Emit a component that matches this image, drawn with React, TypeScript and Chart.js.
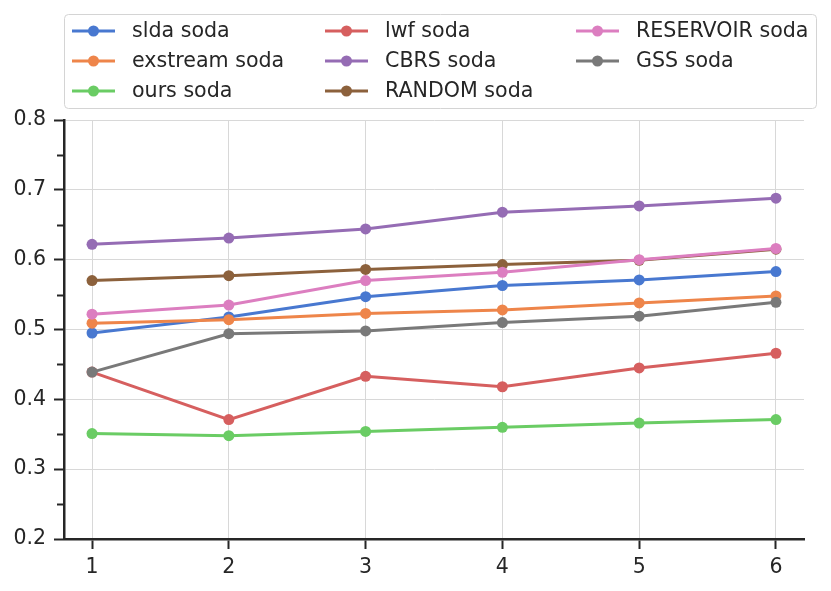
import React, { useEffect, useRef } from "react";
import { Chart, registerables } from "chart.js";

Chart.register(...registerables);

const xValues = [1, 2, 3, 4, 5, 6];
const seriesNames = [
  "slda soda",
  "exstream soda",
  "ours soda",
  "lwf soda",
  "CBRS soda",
  "RANDOM soda",
  "RESERVOIR soda",
  "GSS soda",
];
const seriesColors = [
  "#4878d0",
  "#ee854a",
  "#6acc64",
  "#d65f5f",
  "#956cb4",
  "#8c613c",
  "#dc7ec0",
  "#797979",
];
const sldaValues = [0.495, 0.518, 0.547, 0.563, 0.571, 0.583];
const exstreamValues = [0.509, 0.514, 0.523, 0.528, 0.538, 0.548];
const oursValues = [0.351, 0.348, 0.354, 0.36, 0.366, 0.371];
const lwfValues = [0.439, 0.371, 0.433, 0.418, 0.445, 0.466];
const cbrsValues = [0.622, 0.631, 0.644, 0.668, 0.677, 0.688];
const randomValues = [0.57, 0.577, 0.586, 0.593, 0.599, 0.615];
const reservoirValues = [0.522, 0.535, 0.57, 0.582, 0.6, 0.616];
const gssValues = [0.439, 0.494, 0.498, 0.51, 0.519, 0.539];
const seriesValues = [
  sldaValues,
  exstreamValues,
  oursValues,
  lwfValues,
  cbrsValues,
  randomValues,
  reservoirValues,
  gssValues,
];
const yTickValues = [0.2, 0.3, 0.4, 0.5, 0.6, 0.7, 0.8];
const yMinorTickValues = [0.25, 0.35, 0.45, 0.55, 0.65, 0.75];

const FONT = "DejaVu Sans";
const INK = "#262626";

const minorTicksPlugin = {
  id: "minorTicks",
  afterDraw(chart: any) {
    const y = chart.scales.y;
    const ctx = chart.ctx;
    const left = chart.chartArea.left;
    ctx.save();
    ctx.strokeStyle = INK;
    ctx.lineWidth = 2;
    yMinorTickValues.forEach((v) => {
      const py = Math.round(y.getPixelForValue(v)) + 0.5;
      ctx.beginPath();
      ctx.moveTo(left - 7, py);
      ctx.lineTo(left, py);
      ctx.stroke();
    });
    ctx.restore();
  },
};

const legendPlugin = {
  id: "boxLegend",
  afterDraw(chart: any) {
    const ctx = chart.ctx;
    ctx.save();
    ctx.beginPath();
    const bx = 64.5, by = 14.5, bw = 752, bh = 94;
    if (ctx.roundRect) ctx.roundRect(bx, by, bw, bh, 4);
    else ctx.rect(bx, by, bw, bh);
    ctx.fillStyle = "rgba(255,255,255,0.85)";
    ctx.fill();
    ctx.strokeStyle = "#d4d4d4";
    ctx.lineWidth = 1;
    ctx.stroke();
    const colX = [72, 325, 576];
    const rowY = [31, 61, 91];
    ctx.font = `20.6px "${FONT}"`;
    ctx.textBaseline = "middle";
    ctx.textAlign = "left";
    seriesNames.forEach((name, i) => {
      const col = Math.floor(i / 3);
      const row = i % 3;
      const x = colX[col];
      const yy = rowY[row];
      ctx.strokeStyle = seriesColors[i];
      ctx.lineWidth = 3;
      ctx.beginPath();
      ctx.moveTo(x, yy);
      ctx.lineTo(x + 43, yy);
      ctx.stroke();
      ctx.fillStyle = seriesColors[i];
      ctx.beginPath();
      ctx.arc(x + 21.5, yy, 5.5, 0, Math.PI * 2);
      ctx.fill();
      ctx.fillStyle = INK;
      ctx.fillText(name, x + 60, yy + 1);
    });
    ctx.restore();
  },
};

export default function App() {
  const ref = useRef<HTMLCanvasElement | null>(null);
  useEffect(() => {
    document.body.style.margin = "0";
    const canvas = ref.current;
    if (!canvas) return;
    const chart = new Chart(canvas, {
      type: "line",
      data: {
        datasets: seriesNames.map((name, i) => ({
          label: name,
          data: xValues.map((x, j) => ({ x, y: seriesValues[i][j] })),
          borderColor: seriesColors[i],
          backgroundColor: seriesColors[i],
          borderWidth: 3,
          pointRadius: 5.5,
          pointBorderWidth: 0,
          pointHoverRadius: 5.5,
          tension: 0,
          order: seriesNames.length - i,
        })),
      },
      options: {
        animation: false,
        responsive: false,
        devicePixelRatio: 1,
        layout: { padding: { top: 120, right: 27, left: 0, bottom: 0 } },
        plugins: {
          legend: { display: false },
          tooltip: { enabled: false },
        },
        scales: {
          x: {
            type: "linear",
            min: 0.795,
            max: 6.205,
            afterBuildTicks: (scale: any) => {
              scale.ticks = xValues.map((v) => ({ value: v }));
            },
            afterFit: (scale: any) => {
              scale.height = 52;
            },
            grid: {
              color: "#d8d8d8",
              lineWidth: 1,
              tickColor: INK,
              tickWidth: 2,
              tickLength: 10,
            },
            border: { color: INK, width: 2.5 },
            ticks: {
              color: INK,
              font: { family: FONT, size: 20.5 },
              padding: 6,
              maxRotation: 0,
              callback: (v: any) => String(v),
            },
          },
          y: {
            type: "linear",
            min: 0.2,
            max: 0.8,
            afterBuildTicks: (scale: any) => {
              scale.ticks = yTickValues.map((v) => ({ value: v }));
            },
            afterFit: (scale: any) => {
              scale.width = 64;
            },
            grid: {
              color: "#d8d8d8",
              lineWidth: 1,
              tickColor: INK,
              tickWidth: 2,
              tickLength: 10,
            },
            border: { color: INK, width: 2.5 },
            ticks: {
              color: INK,
              font: { family: FONT, size: 20.5 },
              padding: 8,
              callback: (v: any) => Number(v).toFixed(1),
            },
          },
        },
      },
      plugins: [minorTicksPlugin, legendPlugin],
    } as any);
    return () => chart.destroy();
  }, []);
  return (
    <div style={{ width: 831, height: 591, background: "#fff" }}>
      <canvas ref={ref} width={831} height={591} style={{ display: "block" }} />
    </div>
  );
}
